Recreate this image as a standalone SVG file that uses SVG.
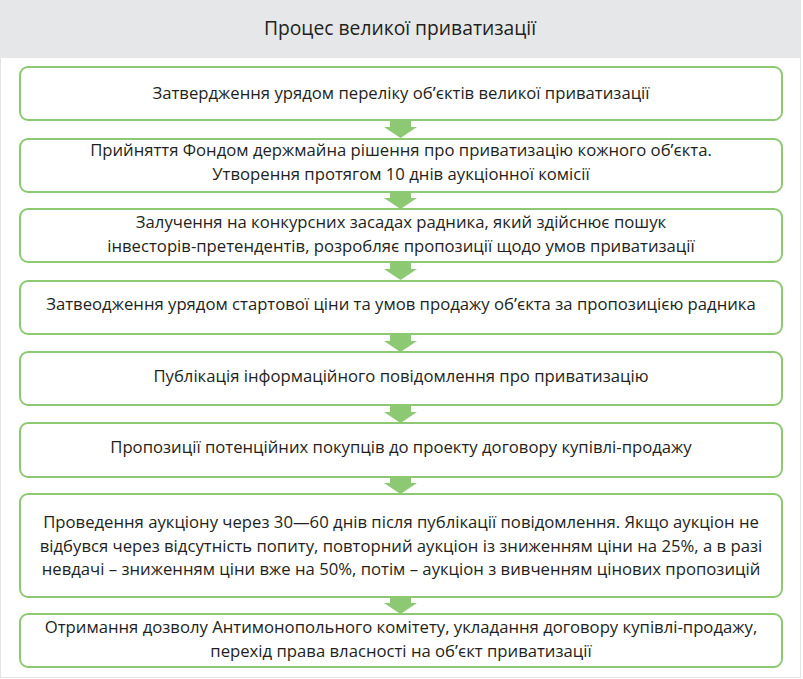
<svg xmlns="http://www.w3.org/2000/svg" width="803" height="679" viewBox="0 0 803 679">
<defs>
<style>
.box{fill:#fff;stroke:#8dc972;stroke-width:2}
.t{font-family:"Open Sans","Noto Sans",sans-serif;font-size:16.7px;fill:#231f20;text-anchor:middle}
.h{font-family:"Open Sans","Noto Sans",sans-serif;font-size:19.3px;fill:#231f20;text-anchor:middle}
.arr{fill:#8dc972}
</style>
</defs>
<rect x="0.5" y="0.5" width="800" height="677" fill="#fff" stroke="#e2e3e4"/>
<g id="header">
<rect x="0" y="0" width="801" height="58" fill="#e6e7e8"/>
<text class="h" x="400" y="35">Процес великої приватизації</text>
</g>
<g id="connectors">
<polygon class="arr" points="390,120 411,120 411,127 417,127 400.5,138 384,127 390,127"/>
<polygon class="arr" points="390,192 411,192 411,198 417,198 400.5,209 384,198 390,198"/>
<polygon class="arr" points="390,262 411,262 411,269 417,269 400.5,280 384,269 390,269"/>
<polygon class="arr" points="390,334 411,334 411,341 417,341 400.5,352 384,341 390,341"/>
<polygon class="arr" points="390,405 411,405 411,412 417,412 400.5,423 384,412 390,412"/>
<polygon class="arr" points="390,477 411,477 411,483 417,483 400.5,494 384,483 390,483"/>
<polygon class="arr" points="390,597 411,597 411,603 417,603 400.5,614 384,603 390,603"/>
</g>
<g id="n1">
<rect class="box" x="20" y="67" width="762" height="53" rx="8"/>
<text class="t" x="401" y="99">Затвердження урядом переліку обʹєктів великої приватизації</text>
</g>
<g id="n2">
<rect class="box" x="20" y="139" width="762" height="53" rx="8"/>
<text class="t" x="401" y="156">Прийняття Фондом держмайна рішення про приватизацію кожного обʹєкта.</text>
<text class="t" x="401" y="180">Утворення протягом 10 днів аукціонної комісії</text>
</g>
<g id="n3">
<rect class="box" x="20" y="209" width="762" height="53" rx="8"/>
<text class="t" x="401" y="228">Залучення на конкурсних засадах радника, який здійснює пошук</text>
<text class="t" x="401" y="252">інвесторів-претендентів, розробляє пропозиції щодо умов приватизації</text>
</g>
<g id="n4">
<rect class="box" x="20" y="281" width="762" height="53" rx="8"/>
<text class="t" x="401" y="310">Затвеодження урядом стартової ціни та умов продажу обʹєкта за пропозицією радника</text>
</g>
<g id="n5">
<rect class="box" x="20" y="352" width="762" height="53" rx="8"/>
<text class="t" x="401" y="382">Публікація інформаційного повідомлення про приватизацію</text>
</g>
<g id="n6">
<rect class="box" x="20" y="423" width="762" height="54" rx="8"/>
<text class="t" x="401" y="453">Пропозиції потенційних покупців до проекту договору купівлі-продажу</text>
</g>
<g id="n7">
<rect class="box" x="20" y="494" width="762" height="103" rx="8"/>
<text class="t" x="401" y="528">Проведення аукціону через 30—60 днів після публікації повідомлення. Якщо аукціон не</text>
<text class="t" x="401" y="552">відбувся через відсутність попиту, повторний аукціон із зниженням ціни на 25%, а в разі</text>
<text class="t" x="401" y="575">невдачі – зниженням ціни вже на 50%, потім – аукціон з вивченням цінових пропозицій</text>
</g>
<g id="n8">
<rect class="box" x="20" y="614" width="762" height="53" rx="8"/>
<text class="t" x="401" y="633">Отримання дозволу Антимонопольного комітету, укладання договору купівлі-продажу,</text>
<text class="t" x="401" y="657">перехід права власності на обʹєкт приватизації</text>
</g>
</svg>
